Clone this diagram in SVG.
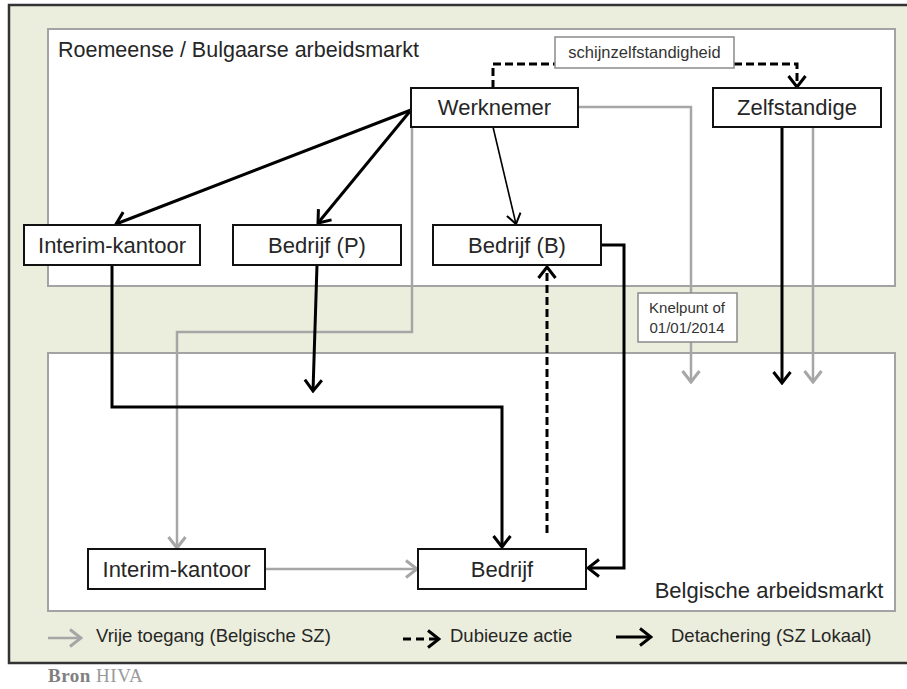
<svg xmlns="http://www.w3.org/2000/svg" width="907" height="689" viewBox="0 0 907 689">
<style>
  .frame{fill:#ebeedc;stroke:#333;stroke-width:2.5}
  .region{fill:#fff;stroke:#a3a3a3;stroke-width:2}
  .node{fill:#fff;stroke:#111;stroke-width:2}
  .note{fill:#fff;stroke:#8a8a8a;stroke-width:1.5}
  .lbl{font-family:"Liberation Sans",Arial,sans-serif;font-size:22px;fill:#262626;text-anchor:middle}
  .small{font-family:"Liberation Sans",Arial,sans-serif;fill:#333;text-anchor:middle}
  .title{font-family:"Liberation Sans",Arial,sans-serif;font-size:21.5px;fill:#262626}
  .leg{font-family:"Liberation Sans",Arial,sans-serif;font-size:18.5px;fill:#262626}
  .blk{fill:none;stroke:#000;stroke-width:3}
  .thin{fill:none;stroke:#000;stroke-width:1.6}
  .gry{fill:none;stroke:#a6a6a6;stroke-width:2.5}
  .dsh{fill:none;stroke:#000;stroke-width:3;stroke-dasharray:8,4}
</style>
<defs>
  <marker id="ab" markerUnits="userSpaceOnUse" viewBox="-14 -11 16 22" refX="0" refY="0" markerWidth="16" markerHeight="22" orient="auto">
    <path d="M-11,-8.5 L0,0 L-11,8.5" fill="none" stroke="#000" stroke-width="3"/>
  </marker>
  <marker id="at" markerUnits="userSpaceOnUse" viewBox="-14 -11 16 22" refX="0" refY="0" markerWidth="16" markerHeight="22" orient="auto">
    <path d="M-10,-7 L0,0 L-10,7" fill="none" stroke="#000" stroke-width="2"/>
  </marker>
  <marker id="ag" markerUnits="userSpaceOnUse" viewBox="-14 -11 16 22" refX="0" refY="0" markerWidth="16" markerHeight="22" orient="auto">
    <path d="M-11,-8.5 L0,0 L-11,8.5" fill="none" stroke="#a6a6a6" stroke-width="3"/>
  </marker>
</defs>

<rect width="907" height="689" fill="#fff"/>
<rect class="frame" x="9" y="5" width="910" height="658"/>

<g id="region-top">
  <rect class="region" x="48" y="29" width="847" height="257"/>
  <text class="title" x="58" y="57">Roemeense / Bulgaarse arbeidsmarkt</text>
</g>
<g id="region-bottom">
  <rect class="region" x="48" y="353" width="847" height="258"/>
  <text class="lbl" x="769" y="598">Belgische arbeidsmarkt</text>
</g>

<g id="connectors">
  <!-- grey free access -->
  <polyline class="gry" points="578,107 691,107 691,382" marker-end="url(#ag)"/>
  <line class="gry" x1="813" y1="127" x2="813" y2="382" marker-end="url(#ag)"/>
  <polyline class="gry" points="412,127 412,332 177,332 177,548" marker-end="url(#ag)"/>
  <line class="gry" x1="265" y1="569" x2="417" y2="569" marker-end="url(#ag)"/>
  <!-- black detachering -->
  <line class="blk" x1="411" y1="110" x2="116" y2="224" marker-end="url(#ab)"/>
  <line class="blk" x1="411" y1="110" x2="318" y2="223" marker-end="url(#ab)"/>
  <line class="thin" x1="493" y1="127" x2="516" y2="224" marker-end="url(#at)"/>
  <line class="blk" x1="317" y1="265" x2="313" y2="391" marker-end="url(#ab)"/>
  <polyline class="blk" points="112,265 112,407 502,407 502,547" marker-end="url(#ab)"/>
  <polyline class="blk" points="601,245 624,245 624,568 588,568" marker-end="url(#ab)"/>
  <line class="blk" x1="782" y1="127" x2="782" y2="383" marker-end="url(#ab)"/>
  <!-- dashed dubious -->
  <line class="dsh" x1="547" y1="533" x2="547" y2="267" marker-end="url(#ab)"/>
  <polyline class="dsh" points="493,88 493,64 555,64"/>
  <polyline class="dsh" points="734,64 797,64 797,87" marker-end="url(#ab)"/>
</g>

<g id="schijn">
  <rect class="note" x="555" y="37" width="179" height="31"/>
  <text class="small" x="644.5" y="58" font-size="16.5">schijnzelfstandigheid</text>
</g>
<g id="knelpunt">
  <rect class="note" x="638" y="293" width="99" height="49"/>
  <text class="small" x="687" y="313" font-size="15">Knelpunt of</text>
  <text class="small" x="687" y="333" font-size="15">01/01/2014</text>
</g>

<g id="werknemer">
  <rect class="node" x="411" y="88" width="167" height="39"/>
  <text class="lbl" x="494.5" y="115">Werknemer</text>
</g>
<g id="zelfstandige">
  <rect class="node" x="713" y="88" width="168" height="39"/>
  <text class="lbl" x="797" y="115">Zelfstandige</text>
</g>
<g id="interim-ro">
  <rect class="node" x="24" y="225" width="176" height="40"/>
  <text class="lbl" x="112" y="253">Interim-kantoor</text>
</g>
<g id="bedrijf-p">
  <rect class="node" x="233" y="225" width="168" height="40"/>
  <text class="lbl" x="317" y="253">Bedrijf (P)</text>
</g>
<g id="bedrijf-b">
  <rect class="node" x="433" y="225" width="168" height="40"/>
  <text class="lbl" x="517" y="253">Bedrijf (B)</text>
</g>
<g id="interim-be">
  <rect class="node" x="88" y="549" width="177" height="40"/>
  <text class="lbl" x="176.5" y="577">Interim-kantoor</text>
</g>
<g id="bedrijf">
  <rect class="node" x="418" y="549" width="168" height="40"/>
  <text class="lbl" x="502" y="577">Bedrijf</text>
</g>

<g id="legend">
  <line class="gry" x1="48" y1="638" x2="81" y2="638" marker-end="url(#ag)"/>
  <text class="leg" x="96" y="642">Vrije toegang (Belgische SZ)</text>
  <line x1="403" y1="639" x2="439" y2="639" fill="none" stroke="#000" stroke-width="3" stroke-dasharray="8,5" marker-end="url(#ab)"/>
  <text class="leg" x="450" y="642" font-size="19">Dubieuze actie</text>
  <line class="blk" x1="616" y1="637" x2="651" y2="637" marker-end="url(#ab)"/>
  <text class="leg" x="671" y="642">Detachering (SZ Lokaal)</text>
</g>

<text x="48" y="682" font-family="'Liberation Serif','Times New Roman',serif" font-size="19" letter-spacing="0.5" fill="#9a9a9a"><tspan font-weight="bold" fill="#808080">Bron</tspan> HIVA</text>
</svg>
